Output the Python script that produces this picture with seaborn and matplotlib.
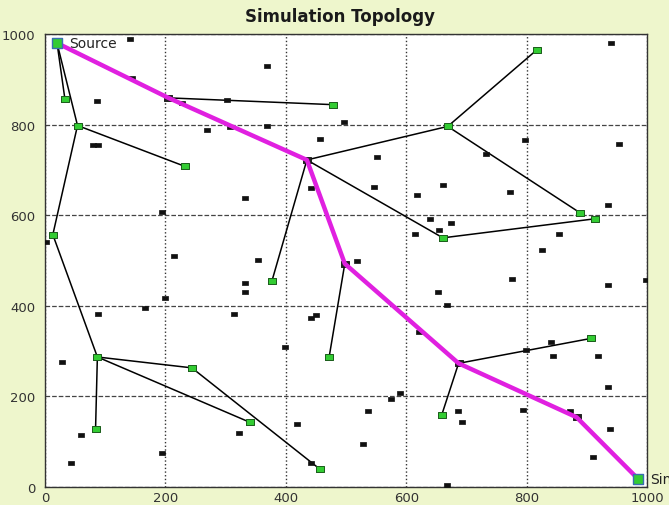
import numpy as np
import pandas as pd
import matplotlib
matplotlib.use("Agg")
import matplotlib.pyplot as plt
import seaborn as sns

# Tree nodes of the routing topology (index -> coordinates)
node_x = [20, 33, 54, 232, 13, 205, 479, 435, 669, 817, 889, 913, 661, 377,
          498, 472, 87, 84, 244, 340, 457, 687, 907, 659, 883, 985]
node_y = [980, 857, 798, 708, 557, 859, 844, 722, 796, 965, 605, 592, 550, 455,
          493, 287, 287, 129, 263, 143, 39, 273, 328, 159, 154, 18]

SOURCE, SINK = 0, 25

# Relay nodes that belong to the tree but are not on the route
relay_nodes = [1, 2, 3, 4, 6, 8, 9, 10, 11, 12, 13, 15, 16, 17, 18, 19, 20, 22, 23]

# Tree links (pairs of node indices)
tree_edges = [(0, 1), (0, 2), (2, 3), (2, 4), (4, 16), (16, 17), (16, 18),
              (16, 19), (18, 20), (5, 6), (7, 13), (7, 8), (8, 9), (8, 10),
              (7, 12), (12, 11), (14, 15), (21, 22), (21, 23)]

# Route from source to sink
route = [0, 5, 7, 14, 21, 24, 25]

# Idle sensor nodes
idle_x = [142, 368, 144, 86, 228, 302, 269, 308, 368, 457, 80, 88, 442, 333, 194, 2,
          214, 353, 941, 496, 552, 798, 954, 733, 661, 546, 618, 773, 936, 639, 674,
          654, 614, 854, 826, 519, 333, 333, 166, 200, 88, 314, 442, 450, 398, 28,
          418, 322, 59, 194, 43, 442, 775, 936, 999, 652, 668, 621, 840, 799, 844,
          919, 936, 575, 590, 536, 686, 692, 794, 872, 939, 529, 911, 668]
idle_y = [988, 930, 902, 853, 847, 855, 789, 794, 798, 769, 756, 756, 661, 637, 607, 541,
          511, 502, 981, 805, 728, 765, 758, 735, 666, 662, 644, 651, 623, 592, 583,
          568, 559, 559, 523, 498, 451, 430, 396, 418, 383, 383, 373, 379, 310, 276,
          140, 119, 115, 76, 54, 52, 460, 447, 457, 431, 402, 343, 319, 302, 290,
          289, 221, 195, 207, 168, 168, 143, 170, 168, 127, 94, 67, 5]

title = "Simulation Topology"
tick_values = [0, 200, 400, 600, 800, 1000]

BG = "#eef6cc"
GREEN = "#33cc33"
MAGENTA = "#e020e0"

sns.set_style("white")
plt.rcParams["font.family"] = ["DejaVu Sans"]

fig = plt.figure(figsize=(6.69, 5.06), dpi=100, facecolor=BG)
ax = fig.add_axes([45 / 669, 1 - 488 / 506, 602 / 669, 453 / 506])
ax.set_facecolor("white")

# rectangular marker (wider than tall)
rect = [(-1, -0.72), (1, -0.72), (1, 0.72), (-1, 0.72), (-1, -0.72)]

# tree links
edge_rows = []
for k, (a, b) in enumerate(tree_edges):
    edge_rows.append({"edge": k, "x": node_x[a], "y": node_y[a]})
    edge_rows.append({"edge": k, "x": node_x[b], "y": node_y[b]})
edges = pd.DataFrame(edge_rows)
sns.lineplot(data=edges, x="x", y="y", units="edge", estimator=None, sort=False,
             color="black", linewidth=1.1, legend=False, ax=ax, zorder=2)

# idle nodes
idle = pd.DataFrame({"x": idle_x, "y": idle_y})
sns.scatterplot(data=idle, x="x", y="y", marker=rect, s=14, color="#111111",
                edgecolor="#111111", linewidth=0.5, ax=ax, zorder=3)

# intermediate route nodes (under the route line)
mid = pd.DataFrame({"x": [node_x[i] for i in route[1:-1]],
                    "y": [node_y[i] for i in route[1:-1]]})
sns.scatterplot(data=mid, x="x", y="y", marker=rect, s=40, color="#222222",
                edgecolor="#111111", linewidth=0.6, ax=ax, zorder=3)

# route
path = pd.DataFrame({"x": [node_x[i] for i in route], "y": [node_y[i] for i in route]})
sns.lineplot(data=path, x="x", y="y", sort=False, estimator=None, color=MAGENTA,
             linewidth=3.2, ax=ax, zorder=4)

# relay nodes
relay = pd.DataFrame({"x": [node_x[i] for i in relay_nodes],
                      "y": [node_y[i] for i in relay_nodes]})
sns.scatterplot(data=relay, x="x", y="y", marker=rect, s=40, color=GREEN,
                edgecolor="#1a5c1a", linewidth=0.7, ax=ax, zorder=5)

# source and sink
ends = pd.DataFrame({"x": [node_x[SOURCE], node_x[SINK]],
                     "y": [node_y[SOURCE], node_y[SINK]]})
sns.scatterplot(data=ends, x="x", y="y", marker="s", s=60, color=GREEN,
                edgecolor="#3a6fb0", linewidth=1.0, ax=ax, zorder=6)
ax.text(node_x[SOURCE] + 20, node_y[SOURCE], "Source", fontsize=10,
        color="#222222", va="center", ha="left", zorder=7)
ax.text(node_x[SINK] + 20, node_y[SINK], "Sink", fontsize=10,
        color="#222222", va="center", ha="left", zorder=7, clip_on=False)

ax.set_xlim(0, 1000)
ax.set_ylim(0, 1000)
ax.set_xticks(tick_values)
ax.set_yticks(tick_values)
ax.set_xticklabels([str(v) for v in tick_values])
ax.set_yticklabels([str(v) for v in tick_values])
ax.set_xlabel("")
ax.set_ylabel("")
ax.tick_params(axis="x", length=0, pad=3, labelsize=9.5, labelcolor="#333333")
ax.tick_params(axis="y", length=0, pad=7, labelsize=9.5, labelcolor="#333333")

ax.xaxis.grid(True, linestyle=":", color="#333333", linewidth=1.0)
ax.yaxis.grid(True, linestyle="--", color="#444444", linewidth=0.9)
ax.set_axisbelow(True)
for sp in ax.spines.values():
    sp.set_visible(True)
    sp.set_color("#333333")
    sp.set_linewidth(1.0)

fig.text(340 / 669, 1 - 17 / 506, title, ha="center", va="center",
         fontsize=12, fontweight="bold", color="#1a1a1a")

fig.savefig("out.png", dpi=100, facecolor=BG)
